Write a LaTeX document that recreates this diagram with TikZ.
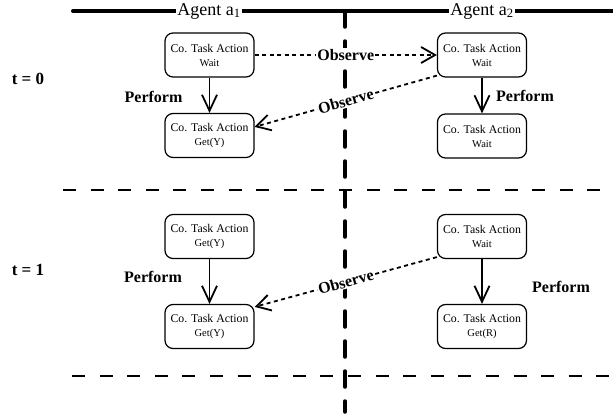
\documentclass[tikz,border=0pt]{standalone}
\usepackage{fontspec}
\setmainfont{Liberation Serif}
\usetikzlibrary{arrows.meta}

\newcommand{\act}[1]{Co. Task Action\\{\fontsize{10.5}{14}\selectfont #1}}

\begin{document}
\begin{tikzpicture}[x=1pt, y=-1pt,
    task/.style={draw, rounded corners=8pt, line width=1.2pt, minimum width=89pt,
      minimum height=44pt, inner sep=0pt, align=center, font=\fontsize{11.8}{14}\selectfont},
    perf/.style={line width=1.8pt, -{Straight Barb[length=16pt, width=15pt]}},
    obs/.style={line width=1.8pt, dash pattern=on 4pt off 3.5pt, -{Straight Barb[length=14pt, width=16pt]}},
    lbl/.style={font=\fontsize{16}{18}\selectfont\bfseries, inner sep=1pt},
    sep/.style={line width=2.5pt, dash pattern=on 13pt off 14.6pt}]
                \useasboundingbox (0,0) rectangle (613,415);
                % agent and time lines
                \draw[line width=4pt, line cap=round] (73,11) -- (613,11);
                \draw[line width=3.5pt, line cap=round, dash pattern=on 16pt off 14pt] (345,11) -- (345,412);
                \draw[sep] (63,190) -- (613,190);
                \draw[sep] (72,376) -- (613,376);
                \node[fill=white, inner sep=1pt, anchor=base, font=\fontsize{18}{20}\selectfont] (ag1) at (209,15) {Agent a\textsubscript{1}};
                \node[fill=white, inner sep=1pt, anchor=base, font=\fontsize{18}{20}\selectfont] (ag2) at (482,15) {Agent a\textsubscript{2}};
                \node[lbl, font=\fontsize{17}{19}\selectfont\bfseries] (t0) at (28,79) {t = 0};
                \node[lbl, font=\fontsize{17}{19}\selectfont\bfseries] (t1) at (28,270) {t = 1};
                % t = 0
                \node[task] (p0) at (209.5,55) {\act{Wait}};
                \node[task] (q0) at (209.5,135.5) {\act{Get(Y)}};
                \node[task] (r0) at (482,55) {\act{Wait}};
                \node[task] (s0) at (482,136) {\act{Wait}};
                \draw[perf] (p0) -- (q0);
                \draw[perf] (r0) -- (s0);
                \node[lbl] (pf0) at (153.5,97) {Perform};
                \node[lbl] (pf0r) at (525,96) {Perform};
                \draw[obs] (p0.east) -- node[lbl, fill=white, midway, sloped] {Observe} (r0.west);
                \draw[obs] ([yshift=2pt]r0.south west) -- node[lbl, fill=white, midway, sloped] {Observe} ([yshift=-14pt]q0.north east);
                % t = 1
                \node[task] (p1) at (209.5,236.5) {\act{Get(Y)}};
                \node[task] (q1) at (209.5,326.5) {\act{Get(Y)}};
                \node[task] (r1) at (482,236.5) {\act{Wait}};
                \node[task] (s1) at (482,326.5) {\act{Get(R)}};
                \draw[perf] (p1) -- (q1);
                \draw[perf] (r1) -- (s1);
                \node[lbl] (pf1) at (153,277) {Perform};
                \node[lbl] (pf1r) at (561,287) {Perform};
                \draw[obs] ([yshift=2pt]r1.south west) -- node[lbl, fill=white, midway, sloped] {Observe} ([yshift=-3pt]q1.north east);
            \end{tikzpicture}
\end{document}
